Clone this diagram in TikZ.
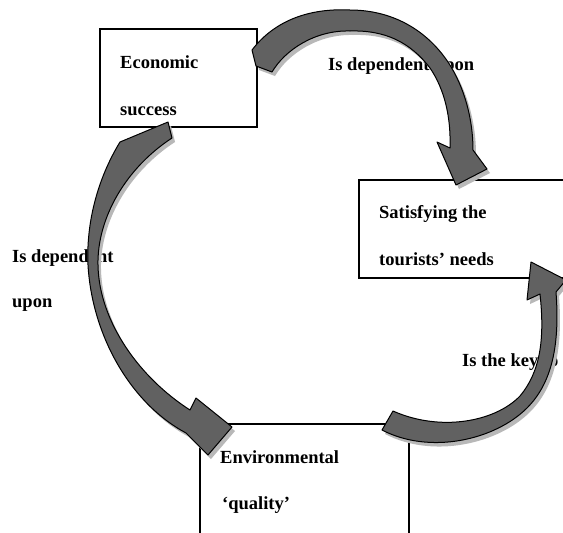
\documentclass[tikz,border=0pt]{standalone}
\usepackage{fontspec}
\setmainfont{Liberation Serif}
\newcommand\ArrTop[1]{\path[#1] (252,50) .. controls (275,20) and (310,8) .. (350,10)
  .. controls (390,10) and (425,28) .. (448,62) .. controls (465,88) and (473,120) .. (473,150)
  -- (487,169) -- (456,185) -- (437,142) -- (450,148)
  .. controls (451,118) and (445,90) .. (430,68) .. controls (410,42) and (385,30) .. (350,31)
  .. controls (315,30) and (285,50) .. (272,72) -- (256,66) -- cycle;}
\newcommand\ArrLeft[1]{\path[#1] (168,122) -- (120,142) .. controls (98,178) and (86,222) .. (88,265)
  .. controls (92,335) and (130,403) .. (186,433) -- (208,455) -- (232,427) -- (196,398) -- (190,410)
  .. controls (140,378) and (99,322) .. (98,265) .. controls (97,218) and (126,168) .. (172,138) -- cycle;}
\newcommand\ArrRight[1]{\path[#1] (393,411) -- (382,430) .. controls (430,455) and (495,440) .. (527,408)
  .. controls (552,383) and (560,345) .. (556,292) -- (566,280) -- (531,262) -- (527,300) -- (540,294)
  .. controls (545,340) and (540,372) .. (520,396) .. controls (495,422) and (440,432) .. (393,411) -- cycle;}
\begin{document}
\begin{tikzpicture}[x=1pt,y=-1pt,
  box/.style={draw,line width=1.4pt,inner sep=0pt},
  lbl/.style={anchor=base west,inner sep=0pt,font=\fontsize{18.5}{22}\selectfont\bfseries},
  arr/.style={fill=black!62,draw=black,line width=1pt,line join=round},
  shadowst/.style={fill=black!28}]
\useasboundingbox (0,0) rectangle (563,533);
\clip (0,0) rectangle (563,533);
\fill[white] (0,0) rectangle (563,533);
% boxes
\node[box,minimum width=157pt,minimum height=98pt] (econ) at (178.5,78) {};
\node[box,minimum width=216pt,minimum height=98pt] (sat) at (467,229) {};
\node[box,minimum width=209pt,minimum height=121pt] (env) at (304.5,484.5) {};
% box texts
\node[lbl] (t1) at (120,68) {Economic};
\node[lbl] (t2) at (120,115) {success};
\node[lbl] (t3) at (379,218) {Satisfying the};
\node[lbl] (t4) at (379,265) {tourists’ needs};
\node[lbl] (t5) at (220,463) {Environmental};
\node[lbl] (t6) at (222,509) {‘quality’};
% labels
\node[lbl] (l1) at (328,70) {Is dependent upon};
\node[lbl] (l2) at (12,262) {Is dependent};
\node[lbl] (l3) at (12,307) {upon};
\node[lbl] (l4) at (462,366) {Is the key to};
% arrows
\begin{scope}[shift={(3,4)}]
\ArrTop{shadowst}
\ArrLeft{shadowst}
\ArrRight{shadowst}
\end{scope}
\ArrTop{arr}
\ArrLeft{arr}
\ArrRight{arr}
\end{tikzpicture}
\end{document}
